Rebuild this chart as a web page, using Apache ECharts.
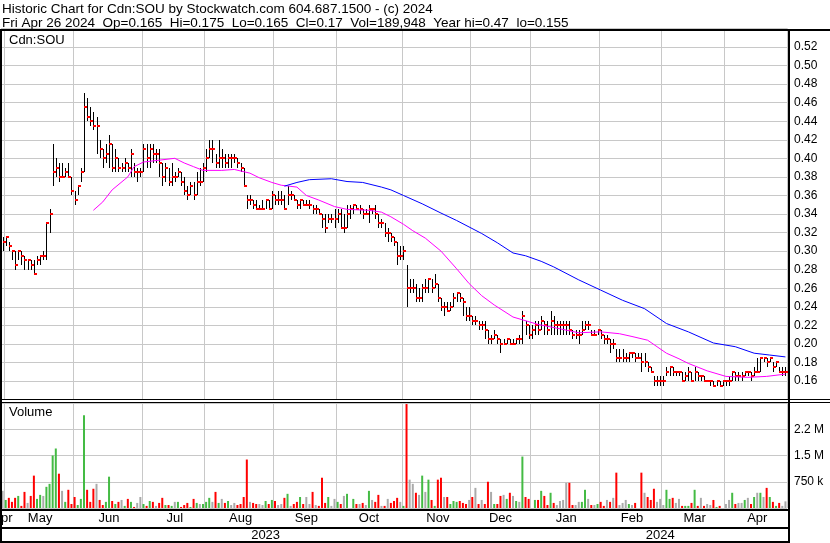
<!DOCTYPE html>
<html>
<head>
<meta charset="utf-8">
<title>Historic Chart for Cdn:SOU</title>
<script src="https://cdn.jsdelivr.net/npm/echarts@6/dist/echarts.min.js"></script>
<style>
  html, body { margin: 0; padding: 0; background: #fff; }
  #chart { width: 830px; height: 543px; }
</style>
</head>
<body>
<div id="chart"></div>
<script>
// exchange holidays inside the window (no trading)
const holidays = ['2023-05-22', '2023-07-03', '2023-08-07', '2023-09-04', '2023-10-09',
  '2023-12-25', '2023-12-26', '2024-01-01', '2024-02-19', '2024-03-29'];

function tradingDays(first, last) {
  const out = [];
  const d = new Date(first + 'T00:00:00Z');
  const end = new Date(last + 'T00:00:00Z');
  while (d <= end) {
    const iso = d.toISOString().slice(0, 10);
    const wd = d.getUTCDay();
    if (wd !== 0 && wd !== 6 && holidays.indexOf(iso) < 0) out.push(iso);
    d.setUTCDate(d.getUTCDate() + 1);
  }
  return out;
}
const dates = tradingDays('2023-04-28', '2024-04-26');
const monthNames = ['Jan', 'Feb', 'Mar', 'Apr', 'May', 'Jun', 'Jul', 'Aug', 'Sep', 'Oct', 'Nov', 'Dec'];

// daily close / high / low, month by month
const closes = [
  0.31,
  0.315, 0.305, 0.30, 0.285, 0.30, 0.295, 0.29, 0.29, 0.285, 0.275, 0.29, 0.295, 0.295, 0.33, 0.34, 0.385, 0.39, 0.38, 0.38, 0.385, 0.38, 0.365,
  0.355, 0.37, 0.385, 0.455, 0.445, 0.44, 0.435, 0.435, 0.41, 0.40, 0.405, 0.415, 0.39, 0.40, 0.39, 0.39, 0.395, 0.39, 0.405, 0.385, 0.385, 0.385,
  0.41, 0.40, 0.41, 0.405, 0.405, 0.395, 0.38, 0.39, 0.375, 0.38, 0.38, 0.385, 0.375, 0.365, 0.36, 0.37, 0.36, 0.375, 0.375, 0.39,
  0.40, 0.41, 0.41, 0.395, 0.40, 0.40, 0.395, 0.40, 0.40, 0.40, 0.395, 0.39, 0.37, 0.355, 0.355, 0.35, 0.345, 0.345, 0.345, 0.355, 0.345, 0.36,
  0.355, 0.355, 0.355, 0.345, 0.36, 0.36, 0.355, 0.35, 0.355, 0.35, 0.35, 0.35, 0.345, 0.345, 0.34, 0.335, 0.325, 0.335, 0.335, 0.335,
  0.34, 0.325, 0.325, 0.34, 0.345, 0.35, 0.345, 0.345, 0.34, 0.34, 0.345, 0.345, 0.34, 0.33, 0.33, 0.32, 0.32, 0.315, 0.31, 0.295, 0.295,
  0.30, 0.26, 0.26, 0.26, 0.25, 0.25, 0.26, 0.26, 0.27, 0.26, 0.265, 0.25, 0.24, 0.24, 0.235, 0.24, 0.25, 0.255, 0.25, 0.245, 0.23, 0.23,
  0.225, 0.225, 0.22, 0.22, 0.215, 0.205, 0.205, 0.21, 0.205, 0.20, 0.20, 0.205, 0.20, 0.20, 0.205, 0.205, 0.23, 0.22, 0.21,
  0.215, 0.22, 0.215, 0.225, 0.22, 0.215, 0.225, 0.22, 0.22, 0.22, 0.22, 0.22, 0.215, 0.21, 0.21, 0.21, 0.215, 0.22, 0.22, 0.21, 0.21, 0.215,
  0.21, 0.205, 0.205, 0.20, 0.20, 0.185, 0.185, 0.185, 0.185, 0.19, 0.19, 0.185, 0.185, 0.18, 0.18, 0.175, 0.17, 0.16, 0.16, 0.16,
  0.16, 0.17, 0.175, 0.17, 0.17, 0.17, 0.16, 0.165, 0.17, 0.16, 0.17, 0.165, 0.165, 0.16, 0.16, 0.16, 0.155, 0.16, 0.155, 0.16,
  0.16, 0.16, 0.17, 0.165, 0.165, 0.165, 0.17, 0.17, 0.165, 0.17, 0.17, 0.185, 0.185, 0.18, 0.185, 0.175, 0.18, 0.17, 0.17, 0.17
];
const highs = [
  0.315,
  0.315, 0.31, 0.30, 0.30, 0.30, 0.30, 0.295, 0.29, 0.29, 0.29, 0.295, 0.295, 0.30, 0.33, 0.345, 0.415, 0.40, 0.395, 0.395, 0.39, 0.395, 0.38,
  0.365, 0.37, 0.39, 0.47, 0.465, 0.455, 0.45, 0.445, 0.42, 0.41, 0.415, 0.425, 0.415, 0.41, 0.40, 0.395, 0.40, 0.395, 0.41, 0.395, 0.39, 0.39,
  0.415, 0.415, 0.415, 0.415, 0.41, 0.41, 0.395, 0.395, 0.39, 0.395, 0.385, 0.39, 0.385, 0.38, 0.37, 0.375, 0.375, 0.385, 0.39, 0.395,
  0.41, 0.42, 0.42, 0.405, 0.42, 0.41, 0.405, 0.405, 0.405, 0.405, 0.40, 0.395, 0.39, 0.36, 0.36, 0.355, 0.355, 0.35, 0.355, 0.355, 0.355, 0.365,
  0.36, 0.365, 0.365, 0.36, 0.37, 0.365, 0.36, 0.355, 0.355, 0.355, 0.355, 0.355, 0.35, 0.35, 0.345, 0.34, 0.34, 0.34, 0.34, 0.345,
  0.345, 0.345, 0.34, 0.35, 0.35, 0.35, 0.35, 0.35, 0.345, 0.345, 0.35, 0.345, 0.35, 0.34, 0.335, 0.33, 0.325, 0.32, 0.315, 0.31, 0.305,
  0.305, 0.285, 0.27, 0.27, 0.265, 0.26, 0.265, 0.27, 0.27, 0.27, 0.275, 0.265, 0.25, 0.245, 0.245, 0.245, 0.255, 0.255, 0.255, 0.25, 0.24, 0.24,
  0.23, 0.23, 0.225, 0.225, 0.225, 0.215, 0.21, 0.215, 0.21, 0.205, 0.205, 0.205, 0.205, 0.205, 0.205, 0.21, 0.235, 0.225, 0.22,
  0.22, 0.225, 0.225, 0.23, 0.225, 0.225, 0.235, 0.23, 0.225, 0.225, 0.225, 0.225, 0.225, 0.215, 0.215, 0.215, 0.225, 0.225, 0.225, 0.215, 0.215, 0.215,
  0.215, 0.21, 0.21, 0.205, 0.205, 0.195, 0.195, 0.195, 0.19, 0.19, 0.19, 0.19, 0.19, 0.19, 0.19, 0.18, 0.175, 0.165, 0.165, 0.165,
  0.165, 0.175, 0.175, 0.175, 0.17, 0.17, 0.17, 0.17, 0.175, 0.17, 0.175, 0.17, 0.165, 0.165, 0.16, 0.16, 0.16, 0.16, 0.16, 0.16,
  0.16, 0.165, 0.17, 0.17, 0.17, 0.17, 0.17, 0.17, 0.17, 0.175, 0.185, 0.185, 0.185, 0.185, 0.185, 0.18, 0.18, 0.175, 0.175, 0.175
];
const lows = [
  0.30,
  0.305, 0.30, 0.29, 0.28, 0.29, 0.285, 0.28, 0.28, 0.28, 0.275, 0.285, 0.285, 0.29, 0.29, 0.32, 0.37, 0.38, 0.375, 0.38, 0.38, 0.38, 0.36,
  0.35, 0.36, 0.375, 0.385, 0.44, 0.435, 0.43, 0.405, 0.40, 0.39, 0.395, 0.39, 0.385, 0.385, 0.385, 0.385, 0.385, 0.385, 0.38, 0.38, 0.375, 0.38,
  0.385, 0.39, 0.39, 0.395, 0.395, 0.38, 0.37, 0.375, 0.37, 0.37, 0.375, 0.38, 0.37, 0.36, 0.355, 0.36, 0.355, 0.36, 0.37, 0.375,
  0.385, 0.40, 0.395, 0.39, 0.39, 0.39, 0.39, 0.39, 0.39, 0.395, 0.39, 0.385, 0.37, 0.345, 0.35, 0.345, 0.345, 0.345, 0.345, 0.345, 0.345, 0.345,
  0.35, 0.35, 0.35, 0.345, 0.35, 0.355, 0.355, 0.345, 0.345, 0.35, 0.35, 0.345, 0.34, 0.34, 0.34, 0.325, 0.32, 0.33, 0.33, 0.325,
  0.33, 0.325, 0.32, 0.325, 0.335, 0.34, 0.345, 0.34, 0.335, 0.34, 0.33, 0.34, 0.335, 0.325, 0.325, 0.315, 0.31, 0.31, 0.305, 0.285, 0.29,
  0.29, 0.24, 0.255, 0.255, 0.245, 0.245, 0.245, 0.255, 0.255, 0.255, 0.26, 0.245, 0.235, 0.23, 0.235, 0.235, 0.24, 0.245, 0.245, 0.23, 0.225, 0.225,
  0.22, 0.22, 0.215, 0.215, 0.205, 0.20, 0.20, 0.205, 0.20, 0.19, 0.20, 0.20, 0.20, 0.20, 0.20, 0.20, 0.20, 0.21, 0.205,
  0.205, 0.21, 0.21, 0.215, 0.21, 0.21, 0.21, 0.21, 0.21, 0.21, 0.21, 0.21, 0.21, 0.205, 0.205, 0.20, 0.21, 0.215, 0.215, 0.21, 0.21, 0.21,
  0.205, 0.20, 0.20, 0.19, 0.195, 0.18, 0.18, 0.18, 0.18, 0.18, 0.185, 0.18, 0.185, 0.17, 0.175, 0.17, 0.17, 0.155, 0.155, 0.155,
  0.155, 0.165, 0.165, 0.165, 0.165, 0.165, 0.16, 0.16, 0.16, 0.16, 0.16, 0.16, 0.16, 0.16, 0.16, 0.155, 0.155, 0.155, 0.155, 0.155,
  0.155, 0.155, 0.16, 0.16, 0.16, 0.16, 0.165, 0.165, 0.16, 0.165, 0.17, 0.17, 0.18, 0.175, 0.18, 0.17, 0.175, 0.17, 0.165, 0.165
];
// daily volume, thousands of shares
const volumesK = [
  490, 230, 290, 175, 290, 345, 60, 460, 145, 345, 925, 260, 375, 345, 605, 690, 1500, 1700, 980, 490,
  175, 520, 115, 315, 85, 260, 2650, 520, 175, 550, 690, 230, 85, 175, 895, 200, 115, 175, 230, 60,
  260, 175, 30, 145, 315, 115, 60, 200, 175, 60, 145, 290, 85, 85, 60, 175, 175, 30, 85, 145,
  30, 260, 145, 115, 115, 175, 290, 175, 460, 145, 260, 145, 200, 85, 145, 85, 115, 315, 1385, 175,
  145, 115, 115, 85, 200, 115, 230, 200, 85, 115, 290, 405, 60, 115, 175, 315,
  115, 315, 115, 460, 85, 60, 865, 145, 315, 60, 260, 175, 115, 345, 405, 0, 260, 115, 115, 145,
  85, 490, 230, 175, 375, 60, 60, 260, 145, 200, 290, 175, 60, 2970, 810, 690, 435, 375, 925, 460,
  810, 230, 60, 810, 865, 315, 315, 115, 200, 175, 200, 145, 115, 230, 315, 575, 115, 230, 115, 750,
  460, 115, 115, 345, 375, 260, 435, 345, 200, 175, 1470, 315, 260, 0, 230, 230, 490, 345, 85, 435,
  145, 85, 200, 230, 720, 720, 85, 85, 175,
  175, 520, 260, 85, 85, 115, 175, 60, 230, 175, 290, 1010, 85, 145, 230, 115, 85, 145, 0, 1010,
  435, 315, 230, 550, 175, 260, 85, 520, 260, 290, 145, 260, 60, 60, 60, 145, 520, 60, 290, 60,
  115, 85, 230, 30, 60, 0, 115, 230, 435, 115, 145, 145, 230, 290, 115, 315, 435, 435, 315, 575,
  315, 175, 60, 145, 60, 190
];
// moving averages: [day index, value]
const maShort = [
  [29, 0.344], [32, 0.353], [35, 0.366], [40, 0.380], [42, 0.391], [45, 0.396], [50, 0.398], [55, 0.400],
  [58, 0.395], [61, 0.391], [64, 0.387], [70, 0.387], [74, 0.388], [79, 0.384], [82, 0.379], [86, 0.374],
  [89, 0.371], [94, 0.369], [97, 0.360], [101, 0.355], [106, 0.348], [110, 0.345], [117, 0.344], [121, 0.342],
  [124, 0.337], [128, 0.329], [131, 0.322], [135, 0.314], [140, 0.300], [145, 0.281], [149, 0.265], [153, 0.252],
  [157, 0.242], [163, 0.229], [171, 0.221], [177, 0.217], [184, 0.212], [191, 0.213], [197, 0.211], [201, 0.208],
  [206, 0.204], [209, 0.197], [212, 0.190], [216, 0.184], [219, 0.179], [225, 0.171], [231, 0.165], [238, 0.164],
  [244, 0.165], [250, 0.1675]
];
const maLong = [
  [90, 0.370], [94, 0.374], [98, 0.377], [105, 0.378], [110, 0.375], [115, 0.374], [121, 0.369], [124, 0.366],
  [128, 0.360], [134, 0.351], [140, 0.341], [145, 0.333], [153, 0.319], [158, 0.309], [163, 0.298], [167, 0.295],
  [172, 0.289], [176, 0.283], [184, 0.269], [191, 0.258], [198, 0.247], [205, 0.238], [212, 0.222], [219, 0.213],
  [227, 0.201], [234, 0.197], [240, 0.190], [245, 0.188], [250, 0.186]
];
const volLabels = { 750: '750 k', 1500: '1.5 M', 2250: '2.2 M' };

// month and year groupings of the day axis
const monthStart = {};
const monthMid = {};
const yearMid = {};
(function () {
  let s = 0;
  for (let i = 1; i <= dates.length; i++) {
    if (i === dates.length || dates[i].slice(0, 7) !== dates[i - 1].slice(0, 7)) {
      monthMid[Math.round((s + i - 1) / 2)] = true;
      if (i < dates.length) monthStart[i] = true;
      s = i;
    }
  }
  s = 0;
  for (let i = 1; i <= dates.length; i++) {
    if (i === dates.length || dates[i].slice(0, 4) !== dates[i - 1].slice(0, 4)) {
      yearMid[Math.round((s + i - 1) / 2)] = true;
      s = i;
    }
  }
})();

const font = '"Liberation Sans", Arial, sans-serif';
const gridColor = '#c8c8c8';

const ohlc = dates.map((d, i) => [i, highs[i], lows[i], closes[i]]);
const volData = volumesK.map((v, i) => {
  let c = '#aaaaaa';
  if (i > 0 && closes[i] > closes[i - 1]) c = '#44bb44';
  if (i > 0 && closes[i] < closes[i - 1]) c = '#ff0000';
  return { value: v, itemStyle: { color: c } };
});

let myChart = echarts.init(document.getElementById('chart'), null, { renderer: 'canvas' });

const dayAxis = {
  type: 'category',
  data: dates,
  boundaryGap: true,
  axisLine: { show: false },
  axisTick: { show: false },
  axisLabel: { show: false },
  splitLine: { show: true, interval: (i) => !!monthStart[i], lineStyle: { color: gridColor, width: 1 } }
};

myChart.setOption({
  animation: false,
  backgroundColor: '#fff',
  grid: [
    { left: 1, width: 786, top: 28.4, height: 371.2, containLabel: false, outerBoundsMode: 'none' },
    { left: 1, width: 786, top: 403, height: 105, containLabel: false, outerBoundsMode: 'none' }
  ],
  xAxis: [
    Object.assign({}, dayAxis, { gridIndex: 0 }),
    Object.assign({}, dayAxis, {
      gridIndex: 1,
      axisLabel: {
        show: true, interval: (i) => !!monthMid[i], margin: 4, align: 'center',
        formatter: (v) => monthNames[+v.slice(5, 7) - 1],
        color: '#000', fontSize: 13, fontFamily: font
      }
    }),
    {
      type: 'category', gridIndex: 1, data: dates, position: 'bottom', offset: 18,
      axisLine: { show: false }, axisTick: { show: false }, splitLine: { show: false },
      axisLabel: {
        show: true, interval: (i) => !!yearMid[i], margin: 3, align: 'center',
        formatter: (v) => v.slice(0, 4),
        color: '#000', fontSize: 13, fontFamily: font
      }
    }
  ],
  yAxis: [
    {
      gridIndex: 0, type: 'value', position: 'right', min: 0.14, max: 0.54, interval: 0.02,
      axisLine: { show: false }, axisTick: { show: false },
      axisLabel: {
        margin: 7, color: '#000', fontSize: 12, fontFamily: font,
        formatter: (v) => (v < 0.15 || v > 0.53) ? '' : v.toFixed(2)
      },
      splitLine: { show: true, lineStyle: { color: gridColor, width: 1 } }
    },
    {
      gridIndex: 1, type: 'value', position: 'right', min: 0, max: 3000, interval: 750,
      axisLine: { show: false }, axisTick: { show: false },
      axisLabel: {
        margin: 7, color: '#000', fontSize: 12, fontFamily: font,
        formatter: (v) => volLabels[Math.round(v)] || ''
      },
      splitLine: { show: true, lineStyle: { color: gridColor, width: 1 } }
    }
  ],
  series: [
    {
      name: 'Cdn:SOU',
      type: 'custom',
      xAxisIndex: 0,
      yAxisIndex: 0,
      data: ohlc,
      z: 2,
      renderItem: function (params, api) {
        const x = api.coord([api.value(0), api.value(1)])[0];
        const hi = api.coord([api.value(0), api.value(1)])[1];
        const lo = api.coord([api.value(0), api.value(2)])[1];
        const cl = api.coord([api.value(0), api.value(3)])[1];
        const px = Math.round(x);
        return {
          type: 'group',
          children: [
            { type: 'rect', shape: { x: px, y: Math.round(hi), width: 1, height: Math.max(1, Math.round(lo) - Math.round(hi)) }, style: { fill: '#000' } },
            { type: 'rect', shape: { x: px, y: Math.round(cl) - 1, width: 3, height: 2 }, style: { fill: '#ff0000' } }
          ]
        };
      }
    },
    {
      name: 'MA short',
      type: 'line',
      xAxisIndex: 0, yAxisIndex: 0,
      data: maShort,
      showSymbol: false,
      z: 3,
      lineStyle: { color: '#ff00ff', width: 1 }
    },
    {
      name: 'MA long',
      type: 'line',
      xAxisIndex: 0, yAxisIndex: 0,
      data: maLong,
      showSymbol: false,
      z: 3,
      lineStyle: { color: '#0000ff', width: 1 }
    },
    {
      name: 'Volume',
      type: 'bar',
      xAxisIndex: 1, yAxisIndex: 1,
      data: volData,
      barWidth: 2
    }
  ],
  graphic: [
    { type: 'text', left: 2, top: 2, z: 100, style: { text: 'Historic Chart for Cdn:SOU by Stockwatch.com 604.687.1500 - (c) 2024', font: '13.5px ' + font, fill: '#000' } },
    { type: 'text', left: 2, top: 16, z: 100, style: { text: 'Fri Apr 26 2024  Op=0.165  Hi=0.175  Lo=0.165  Cl=0.17  Vol=189,948  Year hi=0.47  lo=0.155', font: '13.5px ' + font, fill: '#000' } },
    { type: 'text', left: 9, top: 34, z: 100, style: { text: 'Cdn:SOU', font: '13px ' + font, fill: '#000' } },
    { type: 'text', left: 9, top: 406, z: 100, style: { text: 'Volume', font: '13px ' + font, fill: '#000' } },
    // frame
    { type: 'rect', z: 100, shape: { x: 0, y: 29, width: 830, height: 2 }, style: { fill: '#000' } },
    { type: 'rect', z: 100, shape: { x: 0, y: 29, width: 2, height: 514 }, style: { fill: '#000' } },
    { type: 'rect', z: 100, shape: { x: 788, y: 29, width: 2, height: 514 }, style: { fill: '#000' } },
    { type: 'rect', z: 100, shape: { x: 0, y: 399, width: 830, height: 1 }, style: { fill: '#000' } },
    { type: 'rect', z: 100, shape: { x: 0, y: 402, width: 830, height: 1 }, style: { fill: '#000' } },
    { type: 'rect', z: 100, shape: { x: 0, y: 509, width: 789, height: 2 }, style: { fill: '#000' } },
    { type: 'rect', z: 100, shape: { x: 0, y: 527, width: 789, height: 2 }, style: { fill: '#000' } },
    { type: 'rect', z: 100, shape: { x: 0, y: 541, width: 789, height: 2 }, style: { fill: '#000' } }
  ]
});

// year divider below the volume panel, at the first trading day of 2024
const firstOf2024 = dates.findIndex((d) => d.slice(0, 4) === '2024');
const band = myChart.convertToPixel({ xAxisIndex: 1 }, 1) - myChart.convertToPixel({ xAxisIndex: 1 }, 0);
const yearX = Math.round(myChart.convertToPixel({ xAxisIndex: 1 }, firstOf2024) - band / 2);
myChart.setOption({
  graphic: [
    { type: 'rect', z: 100, shape: { x: yearX, y: 510, width: 1, height: 32 }, style: { fill: '#000' } }
  ]
});
</script>
</body>
</html>
